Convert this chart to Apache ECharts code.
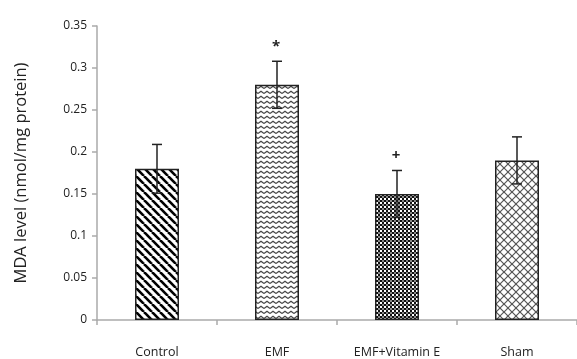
<!DOCTYPE html>
<html>
<head>
<meta charset="utf-8">
<script src="https://cdn.jsdelivr.net/npm/echarts@6/dist/echarts.min.js"></script>
<style>html,body{margin:0;padding:0;background:#fff}#c{width:577px;height:359px}</style>
</head>
<body>
<div id="c"></div>
<script>
var categories = ['Control', 'EMF', 'EMF+Vitamin E', 'Sham'];
var means = [0.18, 0.28, 0.15, 0.19];
var errors = [0.029, 0.028, 0.028, 0.028];
var marks = ['', '*', '+', ''];
var yTicks = [0, 0.05, 0.1, 0.15, 0.2, 0.25, 0.3, 0.35];

function makeTile(w, h, draw) {
  var c = document.createElement('canvas');
  c.width = w; c.height = h;
  var ctx = c.getContext('2d');
  ctx.fillStyle = '#fff';
  ctx.fillRect(0, 0, w, h);
  draw(ctx, w, h);
  return { image: c, repeat: 'repeat' };
}
var patDiag = makeTile(8, 8, function (ctx, w, h) {
  ctx.strokeStyle = '#000'; ctx.lineWidth = 2.6;
  for (var k = -1; k <= 1; k++) {
    ctx.beginPath(); ctx.moveTo(k * w, 0); ctx.lineTo(k * w + w, h); ctx.stroke();
  }
});
var patZig = makeTile(6, 5, function (ctx, w, h) {
  ctx.strokeStyle = '#444'; ctx.lineWidth = 1.1;
  ctx.beginPath(); ctx.moveTo(0, 3.5); ctx.lineTo(3, 1.2); ctx.lineTo(6, 3.5); ctx.stroke();
});
var patCheck = makeTile(4, 4, function (ctx, w, h) {
  ctx.fillStyle = '#111';
  ctx.fillRect(0, 0, 2, 2); ctx.fillRect(2, 2, 2, 2);
  ctx.fillStyle = '#888';
  ctx.fillRect(2, 0, 2, 2);
});
var patCross = makeTile(8, 8, function (ctx, w, h) {
  ctx.strokeStyle = '#555'; ctx.lineWidth = 1.2;
  for (var k = -1; k <= 1; k++) {
    ctx.beginPath(); ctx.moveTo(k * w, 0); ctx.lineTo(k * w + w, h); ctx.stroke();
    ctx.beginPath(); ctx.moveTo(k * w + w, 0); ctx.lineTo(k * w, h); ctx.stroke();
  }
});
var patterns = [patDiag, patZig, patCheck, patCross];

var chart = echarts.init(document.getElementById('c'));
var font = '"Open Sans", sans-serif';
chart.setOption({
  animation: false,
  grid: { left: 97, top: 26, width: 483, height: 296, containLabel: false },
  xAxis: {
    type: 'category', data: categories,
    axisLine: { lineStyle: { color: '#aaa', width: 1.5 } },
    axisTick: { show: true, length: 5, lineStyle: { color: '#aaa', width: 1.5 } },
    axisLabel: { color: '#222', fontSize: 12.5, fontFamily: font, margin: 26 }
  },
  yAxis: {
    type: 'value', min: 0, max: 0.35, interval: 0.05,
    name: 'MDA level (nmol/mg protein)', nameLocation: 'middle', nameGap: 67,
    nameTextStyle: { color: '#222', fontSize: 16.5, fontFamily: font },
    splitLine: { show: false },
    axisLine: { show: true, lineStyle: { color: '#aaa', width: 1.5 } },
    axisTick: { show: true, length: 5, lineStyle: { color: '#aaa', width: 1.5 } },
    axisLabel: { color: '#222', fontSize: 12, fontFamily: font, margin: 10,
      formatter: function (v) { var s = yTicks.filter(function (t) { return Math.abs(t - v) < 1e-9; }); return s.length ? String(+s[0].toFixed(2)) : ''; } }
  },
  series: [{
    type: 'bar', barWidth: 44,
    data: means.map(function (v, i) {
      return { value: v, itemStyle: { color: patterns[i], borderColor: '#222', borderWidth: 1.5 } };
    }),
    z: 2
  }, {
    type: 'custom',
    z: 5,
    data: means.map(function (v, i) { return [i, v - errors[i], v + errors[i], marks[i]]; }),
    renderItem: function (params, api) {
      var lo = api.coord([api.value(0), api.value(1)]);
      var hi = api.coord([api.value(0), api.value(2)]);
      var cap = 5;
      var st = { stroke: '#222', lineWidth: 1.5 };
      var children = [
        { type: 'line', shape: { x1: hi[0], y1: hi[1], x2: lo[0], y2: lo[1] }, style: st },
        { type: 'line', shape: { x1: hi[0] - cap, y1: hi[1], x2: hi[0] + cap, y2: hi[1] }, style: st },
        { type: 'line', shape: { x1: lo[0] - cap, y1: lo[1], x2: lo[0] + cap, y2: lo[1] }, style: st }
      ];
      var m = marks[params.dataIndex];
      if (m) {
        children.push({ type: 'text', x: hi[0] - 1, y: hi[1] - 15,
          style: { text: m, fill: '#222', font: 'bold 15px ' + font, textAlign: 'center', textVerticalAlign: 'middle' } });
      }
      return { type: 'group', children: children };
    }
  }]
});
</script>
</body>
</html>
